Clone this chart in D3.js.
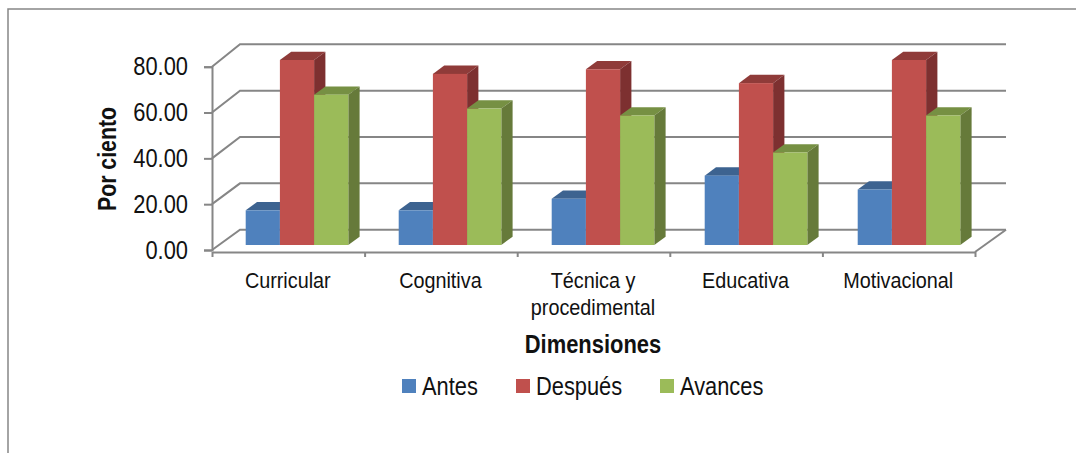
<!DOCTYPE html>
<html>
<head>
<meta charset="utf-8">
<script src="https://cdn.jsdelivr.net/npm/d3@7"></script>
<style>
  html, body { margin: 0; padding: 0; background: #fff; }
  svg { display: block; }
  text { font-family: "Liberation Sans", sans-serif; fill: #111; }
</style>
</head>
<body>
<div id="chart"></div>
<script>
const categories = [["Curricular"], ["Cognitiva"], ["Técnica y", "procedimental"], ["Educativa"], ["Motivacional"]];
const antes = [15, 15, 20, 30, 24];
const despues = [80, 74, 76, 70, 80];
const avances = [65, 59, 56, 40, 56];
const yTicks = [0, 20, 40, 60, 80];

const series = [
  {name: "Antes", values: antes, front: "#4f81bd", top: "#3d6390", side: "#3a5f8c"},
  {name: "Después", values: despues, front: "#c0504d", top: "#8f3b39", side: "#7d3030"},
  {name: "Avances", values: avances, front: "#9bbb59", top: "#769043", side: "#667a3a"}
];

const width = 1076, height = 453;
const gray = "#868686";

const svg = d3.select("#chart").append("svg")
  .attr("width", width)
  .attr("height", height);

// squeeze text horizontally, there is no narrow font to use
function narrow(selection, ratio) {
  selection.each(function() {
    d3.select(this)
      .attr("textLength", this.getComputedTextLength() * ratio)
      .attr("lengthAdjust", "spacingAndGlyphs");
  });
}

// outer frame, only top and left edges are visible
svg.append("path")
  .attr("d", d3.line()([[8, height], [8, 9], [width, 9]]))
  .attr("fill", "none")
  .attr("stroke", gray)
  .attr("stroke-width", 1.5);

// SCALES
const x = d3.scaleBand().domain(d3.range(categories.length)).range([212, 975]);
// bars sit on the floor, further back than the front edge, so their step is a bit wider
const xBar = d3.scaleBand().domain(d3.range(categories.length)).range([212.2, 977.2]);
const yFront = d3.scaleLinear().domain([0, 80]).range([250, 66.7]);
const yBack = d3.scaleLinear().domain([0, 80]).range([229.7, 44.3]);
const yBar = d3.scaleLinear().domain([0, 80]).range([245, 60]);

const wallDepth = 28;
const wallRight = 1006;
const barOffset = 33.5;
const barWidth = 34.2;
const barDepthX = 11.3;
const barDepthY = 8.3;

// WALLS AND FLOOR
const walls = svg.append("g").attr("fill", "none").attr("stroke", gray).attr("stroke-width", 2);

yTicks.forEach(t => {
  walls.append("path")
    .attr("d", d3.line()([[212, yFront(t)], [212 + wallDepth, yBack(t)], [wallRight, yBack(t)]]));
});

// right edge of the floor
walls.append("path")
  .attr("d", d3.line()([[975, 252], [wallRight, yBack(0)]]));

// AXES
const yAxis = d3.axisLeft(yFront)
  .tickValues(yTicks)
  .tickSize(8)
  .tickPadding(16)
  .tickFormat(d3.format(".2f"));

const yAxisG = svg.append("g")
  .attr("transform", "translate(212,0)")
  .call(yAxis);

yAxisG.select(".domain").attr("stroke", gray).attr("stroke-width", 2);
yAxisG.selectAll(".tick line").attr("stroke", gray).attr("stroke-width", 2);
yAxisG.selectAll(".tick text")
  .attr("font-size", 25)
  .attr("font-family", "Liberation Sans")
  .call(narrow, 0.875);

const xAxis = d3.axisBottom(d3.scaleLinear().domain([0, categories.length]).range([212, 975]))
  .ticks(categories.length)
  .tickSize(5)
  .tickSizeOuter(0)
  .tickFormat("");

const xAxisG = svg.append("g")
  .attr("transform", "translate(0,252)")
  .call(xAxis);

xAxisG.select(".domain").attr("stroke", gray).attr("stroke-width", 2);
xAxisG.selectAll(".tick line").attr("stroke", gray).attr("stroke-width", 2);

// BARS
categories.forEach((c, i) => {
  series.forEach((s, j) => {
    const v = s.values[i];
    const bx = xBar(i) + barOffset + j * barWidth;
    const by = yBar(v);
    const base = yBar(0);
    const bar = svg.append("g");

    bar.append("path")
      .attr("d", d3.line()([[bx, by], [bx + barDepthX, by - barDepthY], [bx + barWidth + barDepthX, by - barDepthY], [bx + barWidth, by]]) + "Z")
      .attr("fill", s.top);

    bar.append("path")
      .attr("d", d3.line()([[bx + barWidth, by], [bx + barWidth + barDepthX, by - barDepthY], [bx + barWidth + barDepthX, base - barDepthY], [bx + barWidth, base]]) + "Z")
      .attr("fill", s.side);

    bar.append("rect")
      .attr("x", bx)
      .attr("y", by)
      .attr("width", barWidth)
      .attr("height", base - by)
      .attr("fill", s.front);
  });
});

// CATEGORY LABELS
categories.forEach((lines, i) => {
  lines.forEach((line, k) => {
    svg.append("text")
      .attr("x", x(i) + x.bandwidth() / 2 - 0.5)
      .attr("y", 288 + k * 27)
      .attr("text-anchor", "middle")
      .attr("font-size", 22)
      .text(line)
      .call(narrow, 0.9);
  });
});

// AXIS TITLES
svg.append("text")
  .attr("transform", "translate(116,159) rotate(-90)")
  .attr("text-anchor", "middle")
  .attr("font-size", 25)
  .attr("font-weight", "bold")
  .text("Por ciento")
  .call(narrow, 0.85);

svg.append("text")
  .attr("x", 593)
  .attr("y", 353)
  .attr("text-anchor", "middle")
  .attr("font-size", 25)
  .attr("font-weight", "bold")
  .text("Dimensiones")
  .call(narrow, 0.877);

// LEGEND
const legendX = [402, 516, 660];
series.forEach((s, i) => {
  svg.append("rect")
    .attr("x", legendX[i])
    .attr("y", 379)
    .attr("width", 14)
    .attr("height", 14)
    .attr("fill", s.front);

  svg.append("text")
    .attr("x", legendX[i] + 20)
    .attr("y", 395)
    .attr("font-size", 25)
    .text(s.name)
    .call(narrow, 0.873);
});
</script>
</body>
</html>
